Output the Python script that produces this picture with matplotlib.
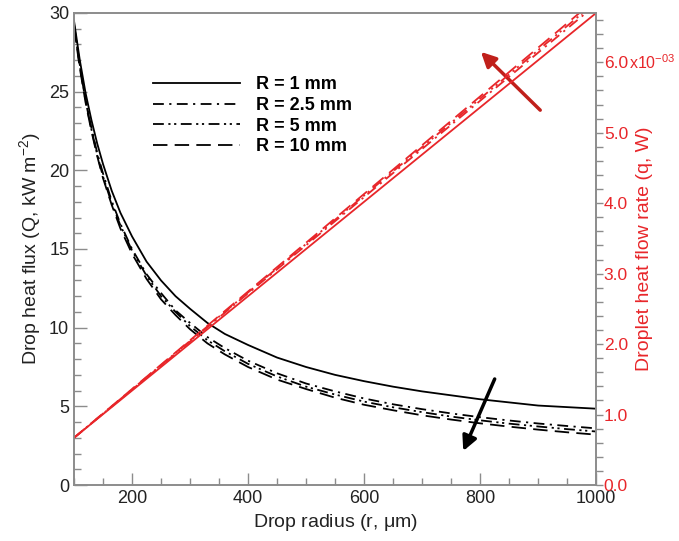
import numpy as np
import matplotlib
matplotlib.use('agg')
import matplotlib.pyplot as plt
from matplotlib.ticker import MultipleLocator, FixedLocator, FuncFormatter

plt.rcParams['font.family'] = ['Liberation Sans', 'DejaVu Sans']
plt.rcParams['mathtext.default'] = 'regular'

# drop radius (um)
r = [100, 110, 120, 130, 140, 150, 165, 180, 200, 225, 250, 275, 300, 330, 360,
	400, 450, 500, 550, 600, 650, 700, 750, 800, 850, 900, 950, 1000]
# drop heat flux Q (kW m^-2)
Q_1 = [29.5, 27.0, 24.9, 23.2, 21.7, 20.4, 18.7, 17.3, 15.8, 14.2, 13.0, 12.0, 11.2, 10.3, 9.6,
	8.9, 8.1, 7.5, 7.0, 6.6, 6.25, 5.95, 5.7, 5.45, 5.25, 5.05, 4.95, 4.85]
Q_25 = [29.3, 26.7, 24.5, 22.7, 21.1, 19.8, 18.05, 16.6, 15.0, 13.4, 12.2, 11.1, 10.3, 9.4, 8.7,
	7.9, 7.1, 6.45, 5.95, 5.5, 5.13, 4.82, 4.55, 4.31, 4.1, 3.91, 3.75, 3.6]
Q_5 = [29.2, 26.6, 24.4, 22.6, 21.0, 19.6, 17.9, 16.5, 14.9, 13.3, 12.0, 11.0, 10.1, 9.2, 8.5,
	7.7, 6.9, 6.25, 5.75, 5.3, 4.94, 4.63, 4.35, 4.11, 3.9, 3.72, 3.55, 3.4]
Q_10 = [29.1, 26.5, 24.3, 22.5, 20.9, 19.5, 17.8, 16.3, 14.7, 13.1, 11.8, 10.8, 9.9, 9.0, 8.3,
	7.5, 6.7, 6.1, 5.55, 5.1, 4.75, 4.43, 4.16, 3.92, 3.71, 3.52, 3.35, 3.2]

# droplet heat flow rate q (W)
r_q = [100, 1000]
q_1 = [0.67e-3, 6.70e-3]
q_25 = [0.67e-3, 6.82e-3]
q_5 = [0.67e-3, 6.86e-3]
q_10 = [0.67e-3, 6.90e-3]

labels = ['R = 1 mm', 'R = 2.5 mm', 'R = 5 mm', 'R = 10 mm']
styles = ['-', (0, (6, 3, 1.2, 3)), (0, (6, 2.5, 1.2, 2, 1.2, 2.5)), (0, (8, 4))]

grey = '#8c8c8c'
red = '#e8262a'

fig = plt.figure(figsize=(6.79, 5.41), dpi=100)
ax = fig.add_axes([0.109, 0.1035, 0.769, 0.8725])
ax2 = ax.twinx()

for Q, ls, lab in zip([Q_1, Q_25, Q_5, Q_10], styles, labels):
	ax.plot(r, Q, color='black', lw=1.3, linestyle=ls, label=lab)

for q, ls in zip([q_1, q_25, q_5, q_10], styles):
	ax2.plot(r_q, q, color=red, lw=1.3, linestyle=ls)

ax.set_xlim(100, 1000)
ax.set_ylim(0, 30)
ax2.set_ylim(0, 6.7e-3)

ax.xaxis.set_major_locator(FixedLocator([200, 400, 600, 800, 1000]))
ax.xaxis.set_minor_locator(MultipleLocator(50))
ax.yaxis.set_major_locator(MultipleLocator(5))
ax.yaxis.set_minor_locator(MultipleLocator(1))
ax.tick_params(which='both', direction='in', colors=grey, labelcolor='#222222', labelsize=13, top=False)
ax.tick_params(which='major', length=9, width=1)
ax.tick_params(which='minor', length=5, width=1)

ax2.yaxis.set_major_locator(MultipleLocator(1e-3))
ax2.yaxis.set_minor_locator(MultipleLocator(0.2e-3))
ax2.yaxis.set_major_formatter(FuncFormatter(lambda v, pos: '%.1f' % (v * 1e3)))
ax2.tick_params(which='both', direction='out', colors=grey, labelcolor=red, labelsize=12.5, pad=0.5)
ax2.tick_params(which='major', length=5, width=1)
ax2.tick_params(which='minor', length=5, width=1)
# exponent beside the 6.0 tick label
ax2.annotate('x10$^{-03}$', xy=(1.0, 6e-3), xycoords=('axes fraction', 'data'),
	xytext=(24, 0), textcoords='offset points', color=red, fontsize=11.5, va='center', ha='left')

for a in (ax, ax2):
	for s in a.spines.values():
		s.set_color(grey)
		s.set_linewidth(1.2)

ax.set_xlabel('Drop radius (r, $\\mu$m)', fontsize=14, color='#222222')
ax.set_ylabel('Drop heat flux (Q, kW m$^{-2}$)', fontsize=14, color='#222222', labelpad=4)
ax2.set_ylabel('Droplet heat flow rate (q, W)', fontsize=14, color=red, labelpad=6)

leg = ax.legend(loc='upper left', bbox_to_anchor=(0.12, 0.9), frameon=False,
	handlelength=4.8, handletextpad=0.9, labelspacing=0.2, prop={'size': 13, 'weight': 'bold'})

# trend arrows
ax.annotate('', xy=(769, 2.0), xytext=(827, 6.9),
	arrowprops=dict(arrowstyle='-|>', color='black', lw=2.5, mutation_scale=22))
ax.annotate('', xy=(798, 27.65), xytext=(907, 23.7),
	arrowprops=dict(arrowstyle='-|>', color='#c0201b', lw=2.5, mutation_scale=22))

fig.savefig('out.png', dpi=100)
